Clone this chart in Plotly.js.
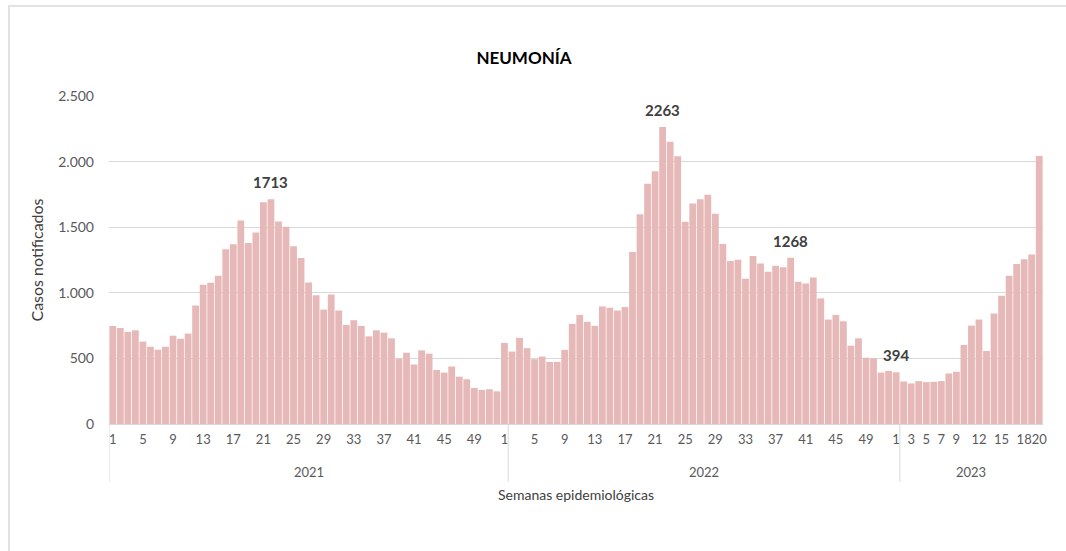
<!DOCTYPE html>
<html>
<head>
<meta charset="utf-8">
<script src="https://cdn.plot.ly/plotly-3.0.1.min.js"></script>
<style>
  html, body { margin: 0; padding: 0; background: #ffffff; }
  #wrap { position: relative; width: 1066px; height: 551px; overflow: hidden; }
  #frame { position: absolute; left: 8px; top: 5px; width: 1070px; height: 560px;
           border-top: 2px solid #e2e2e2; border-left: 2px solid #e2e2e2; box-sizing: border-box; }
  #chart { position: absolute; left: 0; top: 0; width: 1066px; height: 551px; }
</style>
</head>
<body>
<div id="wrap">
  <div id="frame"></div>
  <div id="chart"></div>
</div>
<script>
// ---- Data (weekly pneumonia cases) ----
const casos2021 = [747, 732, 702, 714, 628, 589, 566, 589, 673, 650, 689, 903, 1061, 1077, 1130, 1332,
  1370, 1551, 1380, 1459, 1691, 1713, 1543, 1503, 1355, 1265, 1079, 982, 872, 987, 865, 755,
  791, 747, 668, 714, 696, 653, 497, 543, 454, 561, 536, 412, 392, 438, 361, 341, 275, 260, 265, 249];
const casos2022 = [618, 552, 657, 578, 494, 514, 473, 473, 565, 763, 832, 779, 748, 896, 886, 865,
  891, 1311, 1598, 1832, 1927, 2263, 2151, 2041, 1542, 1680, 1713, 1748, 1603, 1372, 1242, 1252,
  1107, 1280, 1224, 1161, 1207, 1194, 1268, 1084, 1071, 1117, 957, 796, 832, 783, 597, 653, 505, 500, 392, 405];
const casos2023 = [394, 324, 309, 327, 319, 321, 327, 385, 398, 602, 750, 796, 556, 842, 977, 1130, 1219, 1255, 1291, 2043];

// Group labels and number of bars per group as shown on the category axis
const anios = ['2021', '2022', '2023'];
const barrasPorGrupo = [53, 52, 19];

// Week tick labels shown per year
const semanas2021 = [1, 5, 9, 13, 17, 21, 25, 29, 33, 37, 41, 45, 49];
const semanas2022 = [1, 5, 9, 13, 17, 21, 25, 29, 33, 37, 41, 45, 49];
const semanas2023 = [1, 3, 5, 7, 9, 12, 15, 18, 20];

// Highlighted values (year, week)
const destacados = [['2021', 22], ['2022', 22], ['2022', 39], ['2023', 1]];

// ---- Build ----
const series = { '2021': casos2021, '2022': casos2022, '2023': casos2023 };
const offsets = { '2021': 0, '2022': casos2021.length, '2023': casos2021.length + casos2022.length };
const y = casos2021.concat(casos2022, casos2023);
const x = y.map((_, i) => i);

const tickvals = [], ticktext = [];
[['2021', semanas2021], ['2022', semanas2022], ['2023', semanas2023]].forEach(([yr, arr]) => {
  arr.forEach(w => { tickvals.push(offsets[yr] + w - 1); ticktext.push(String(w)); });
});

const plotH = 551 - 96 - 127;
const annotations = destacados.map(([yr, w]) => {
  const v = series[yr][w - 1];
  return { x: offsets[yr] + w - 1, y: v, xref: 'x', yref: 'y', text: '<b>' + v + '</b>',
    showarrow: false, yanchor: 'bottom', yshift: 6,
    font: { family: 'Lato, "Open Sans", sans-serif', size: 15, color: '#404040' } };
});

const shapes = [];
let start = -0.5;
anios.forEach((yr, k) => {
  const end = start + barrasPorGrupo[k];
  annotations.push({ x: (start + end) / 2, y: 0, xref: 'x', yref: 'paper', text: yr, showarrow: false,
    yanchor: 'middle', yshift: -48, font: { family: 'Lato, "Open Sans", sans-serif', size: 13, color: '#595959' } });
  shapes.push({ type: 'line', xref: 'x', yref: 'paper', x0: start, x1: start, y0: 0, y1: -58 / plotH,
    line: { color: '#d9d9d9', width: 1 } });
  start = end;
});

const trace = {
  type: 'bar', x: x, y: y,
  marker: { color: '#e6b8b7', line: { width: 0 } },
  hoverinfo: 'y'
};

const layout = {
  width: 1066, height: 551,
  paper_bgcolor: 'rgba(0,0,0,0)', plot_bgcolor: 'rgba(0,0,0,0)',
  margin: { l: 109, r: 23, t: 96, b: 127 },
  separators: ',.',
  bargap: 0.1,
  showlegend: false,
  font: { family: 'Lato, "Open Sans", sans-serif', color: '#595959' },
  title: { text: '<b>NEUMONÍA</b>', x: 524 / 1066, xref: 'container', xanchor: 'center',
    y: 1 - 58 / 551, yref: 'container', yanchor: 'middle',
    font: { family: 'Lato, "Open Sans", sans-serif', size: 17, color: '#000000' } },
  xaxis: {
    type: 'linear', range: [-0.5, y.length - 0.5], showgrid: false, zeroline: false,
    showline: true, linecolor: '#d9d9d9', linewidth: 1,
    tickmode: 'array', tickvals: tickvals, ticktext: ticktext, ticks: '', tickangle: 0,
    ticklabelstandoff: 3,
    tickfont: { size: 13, color: '#595959' },
    automargin: false,
    title: { text: 'Semanas epidemiológicas', standoff: 44, font: { size: 14, color: '#404040' } }
  },
  yaxis: {
    range: [0, 2500], dtick: 500, tick0: 0, tickformat: ',d',
    showgrid: true, gridcolor: '#d9d9d9', gridwidth: 1, zeroline: false, showline: false,
    ticks: '', ticklabelstandoff: 14,
    tickfont: { size: 14, color: '#595959' },
    automargin: false,
    title: { text: 'Casos notificados', standoff: 10, font: { size: 16, color: '#404040' } }
  },
  annotations: annotations,
  shapes: shapes
};

Plotly.newPlot('chart', [trace], layout, { displayModeBar: false, staticPlot: true });
</script>
</body>
</html>
